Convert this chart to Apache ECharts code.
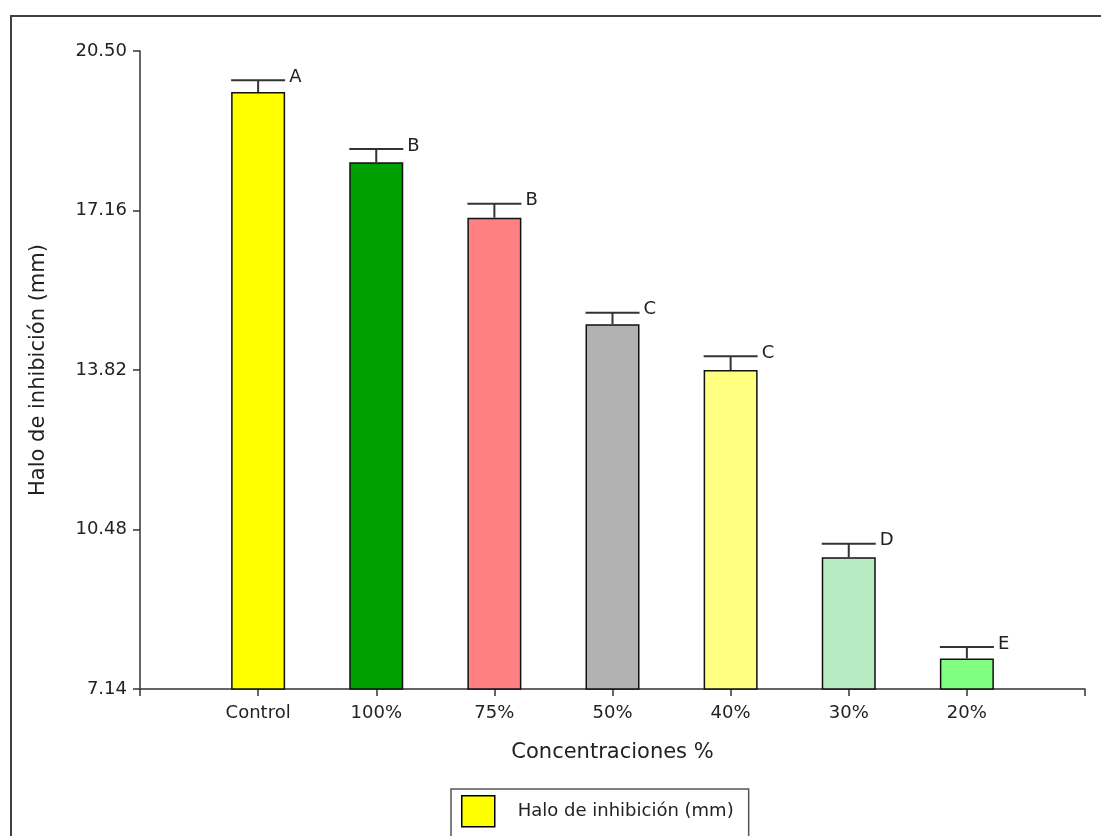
<!DOCTYPE html>
<html>
<head>
<meta charset="utf-8">
<title>Halo de inhibición</title>
<script src="https://cdn.jsdelivr.net/npm/echarts@6/dist/echarts.min.js"></script>
<style>
  html, body { margin: 0; padding: 0; background: #fff; }
  #chart { width: 1101px; height: 836px; }
</style>
</head>
<body>
<div id="chart"></div>
<script>
// Concentration groups and measured inhibition halo (mm)
const categories = ['Control', '100%', '75%', '50%', '40%', '30%', '20%'];
const halo = [19.64, 18.17, 17.01, 14.78, 13.82, 9.90, 7.78];
const haloError = [0.25, 0.28, 0.29, 0.24, 0.29, 0.28, 0.24];
const groups = ['A', 'B', 'B', 'C', 'C', 'D', 'E'];
const barColors = ['#FFFF00', '#00A000', '#FF8080', '#B2B2B2', '#FFFF80', '#B9EBC2', '#80FF80'];
const yTicks = [7.14, 10.48, 13.82, 17.16, 20.50];

const FONT = 'DejaVu Sans';
const INK = '#222';
const BAR_W = 54;

// One empty slot on each side so the groups sit one step in from the axis ends
const axisCats = [''].concat(categories, ['']);

const barData = halo.map((v, i) => ({
  value: [i + 1, v],
  itemStyle: { color: barColors[i] }
}));
const errData = halo.map((v, i) => [i + 1, v, v + haloError[i]]);

const chart = echarts.init(document.getElementById('chart'), null, { renderer: 'canvas' });

chart.setOption({
  backgroundColor: '#fff',
  animation: false,
  graphic: [{
    type: 'rect',
    silent: true,
    shape: { x: 11, y: 16, width: 1300, height: 1000 },
    style: { fill: 'none', stroke: '#404040', lineWidth: 2 },
    z: 100
  }],
  grid: { left: 140, right: 16, top: 51, bottom: 147, containLabel: false },
  legend: {
    data: ['Halo de inhibición (mm)'],
    left: 451,
    top: 789,
    orient: 'horizontal',
    padding: [6, 15, 40, 10],
    borderColor: '#555',
    borderWidth: 1.5,
    itemWidth: 33,
    itemHeight: 31,
    icon: 'rect',
    itemStyle: { color: '#FFFF00', borderColor: '#000', borderWidth: 1.5 },
    textStyle: { fontFamily: FONT, fontSize: 18, color: INK, padding: [0, 0, 0, 18] },
    selectedMode: false
  },
  xAxis: {
    type: 'category',
    data: axisCats,
    boundaryGap: false,
    name: 'Concentraciones %',
    nameLocation: 'middle',
    nameGap: 53,
    nameTextStyle: { fontFamily: FONT, fontSize: 21, color: INK },
    axisLine: { lineStyle: { color: '#333', width: 1.5 } },
    axisTick: { show: true, length: 7, inside: false, interval: 0, lineStyle: { color: '#333', width: 1.5 } },
    axisLabel: { interval: 0, margin: 15, fontFamily: FONT, fontSize: 18, color: INK },
    splitLine: { show: false }
  },
  yAxis: {
    type: 'value',
    min: 7.14,
    max: 20.5,
    name: 'Halo de inhibición (mm)',
    nameLocation: 'middle',
    nameGap: 91,
    nameRotate: 90,
    nameTextStyle: { fontFamily: FONT, fontSize: 21, color: INK },
    axisLine: { show: true, lineStyle: { color: '#333', width: 1.5 } },
    axisTick: { show: true, length: 7, customValues: yTicks, lineStyle: { color: '#333', width: 1.5 } },
    axisLabel: {
      margin: 13, fontFamily: FONT, fontSize: 18, color: INK,
      customValues: yTicks,
      formatter: v => v.toFixed(2)
    },
    splitLine: { show: false }
  },
  series: [
    {
      name: 'Halo de inhibición (mm)',
      type: 'bar',
      data: barData,
      barWidth: BAR_W,
      itemStyle: { color: '#FFFF00', borderColor: '#111', borderWidth: 1.5 },
      emphasis: { disabled: true },
      z: 2
    },
    {
      name: 'error',
      type: 'custom',
      data: errData,
      clip: false,
      z: 5,
      renderItem: function (params, api) {
        const base = api.coord([api.value(0), api.value(1)]);
        const top = api.coord([api.value(0), api.value(2)]);
        const half = BAR_W / 2;
        const lineStyle = { stroke: '#333', lineWidth: 2 };
        return {
          type: 'group',
          children: [
            { type: 'line', shape: { x1: base[0], y1: base[1], x2: top[0], y2: top[1] }, style: lineStyle },
            { type: 'line', shape: { x1: top[0] - half, y1: top[1], x2: top[0] + half, y2: top[1] }, style: lineStyle },
            {
              type: 'text',
              x: top[0] + half + 4,
              y: top[1] - 3,
              style: {
                text: groups[params.dataIndex],
                fill: INK,
                font: '18px "' + FONT + '"',
                textAlign: 'left',
                textVerticalAlign: 'middle'
              }
            }
          ]
        };
      }
    }
  ]
});
</script>
</body>
</html>
